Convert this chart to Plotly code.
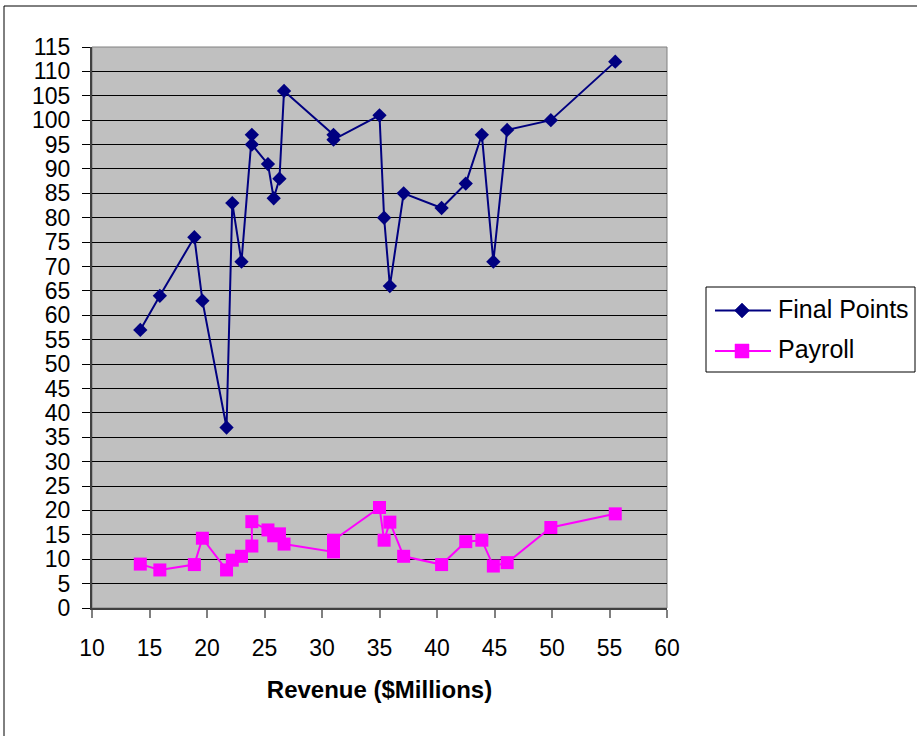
import plotly.graph_objects as go

# Club season data: revenue vs. final league points and payroll
revenue = [14.2, 15.9, 18.9, 19.6, 21.7, 22.2, 23.0, 23.9, 23.9, 25.3, 25.8, 26.3, 26.7,
           31.0, 31.0, 35.0, 35.4, 35.9, 37.1, 40.4, 42.5, 43.9, 44.9, 46.1, 49.9, 55.5]
final_points = [57, 64, 76, 63, 37, 83, 71, 97, 95, 91, 84, 88, 106,
                97, 96, 101, 80, 66, 85, 82, 87, 97, 71, 98, 100, 112]
payroll = [9.0, 7.8, 8.9, 14.3, 7.8, 9.8, 10.6, 12.7, 17.7, 16.0, 14.8, 15.2, 13.1,
           11.5, 13.9, 20.6, 13.9, 17.6, 10.6, 8.9, 13.6, 13.9, 8.6, 9.3, 16.5, 19.3]

x_ticks = list(range(10, 61, 5))
y_ticks = list(range(0, 116, 5))
series_names = ["Final Points", "Payroll"]

NAVY = "#000080"
MAGENTA = "#FF00FF"
FONT = "Liberation Sans, Arial, sans-serif"

W, H = 917, 736
ML, MR, MT, MB = 92, 250, 47, 128
PW, PH = W - ML - MR, H - MT - MB


def px(x):
    return (x - ML) / PW


def py(y):
    return (H - MB - y) / PH


fig = go.Figure()
fig.add_trace(go.Scatter(
    x=revenue, y=final_points, name=series_names[0], mode="lines+markers",
    line=dict(color=NAVY, width=2),
    marker=dict(symbol="diamond", size=11, color=NAVY),
    showlegend=False,
))
fig.add_trace(go.Scatter(
    x=revenue, y=payroll, name=series_names[1], mode="lines+markers",
    line=dict(color=MAGENTA, width=2),
    marker=dict(symbol="square", size=13, color=MAGENTA),
    showlegend=False,
))

shapes = []
annotations = []

# outer chart frame
shapes.append(dict(type="rect", xref="paper", yref="paper",
                   x0=px(4), x1=px(W + 20), y0=py(6), y1=py(H + 20),
                   line=dict(color="black", width=1), layer="below"))
# plot-area frame
shapes.append(dict(type="rect", xref="paper", yref="paper",
                   x0=0, x1=1, y0=0, y1=1,
                   line=dict(color="#808080", width=1), layer="below"))

# legend box
lx0, lx1, ly0, ly1 = 706, 915, 287, 372
shapes.append(dict(type="rect", xref="paper", yref="paper",
                   x0=px(lx0), x1=px(lx1), y0=py(ly0), y1=py(ly1),
                   line=dict(color="black", width=1), fillcolor="white"))
rows = [(310.5, NAVY, "diamond"), (351, MAGENTA, "square")]
for (yy, col, sym), name in zip(rows, series_names):
    shapes.append(dict(type="line", xref="paper", yref="paper",
                       x0=px(715), x1=px(771), y0=py(yy), y1=py(yy),
                       line=dict(color=col, width=2)))
    cx = 742
    if sym == "diamond":
        r = 7.5
        path = (f"M {px(cx - r)},{py(yy)} L {px(cx)},{py(yy - r)} "
                f"L {px(cx + r)},{py(yy)} L {px(cx)},{py(yy + r)} Z")
        shapes.append(dict(type="path", xref="paper", yref="paper", path=path,
                           fillcolor=col, line=dict(color=col, width=0.5)))
    else:
        r = 7
        shapes.append(dict(type="rect", xref="paper", yref="paper",
                           x0=px(cx - r), x1=px(cx + r), y0=py(yy - r), y1=py(yy + r),
                           fillcolor=col, line=dict(color=col, width=0.5)))
    annotations.append(dict(xref="paper", yref="paper", x=px(776), y=py(yy - 2),
                            xanchor="left", yanchor="middle", showarrow=False,
                            text=name, font=dict(family=FONT, size=25, color="black")))

fig.update_layout(
    width=W, height=H,
    margin=dict(l=ML, r=MR, t=MT, b=MB, pad=0),
    paper_bgcolor="white",
    plot_bgcolor="#C0C0C0",
    font=dict(family=FONT, color="black"),
    shapes=shapes,
    annotations=annotations,
    showlegend=False,
)

fig.update_xaxes(
    range=[10, 60], tickvals=x_ticks, ticktext=[str(v) for v in x_ticks],
    showgrid=False, zeroline=False,
    showline=True, linecolor="#404040", linewidth=2,
    ticks="outside", ticklen=8, tickcolor="#808080", tickwidth=2,
    tickfont=dict(family=FONT, size=23, color="black"),
    ticklabelstandoff=10,
    title=dict(text="<b>Revenue ($Millions)</b>",
               font=dict(family=FONT, size=24, color="black"), standoff=22),
)
fig.update_yaxes(
    range=[0, 115], tickvals=y_ticks, ticktext=[str(v) for v in y_ticks],
    showgrid=True, gridcolor="black", gridwidth=1.3, zeroline=False,
    showline=True, linecolor="#404040", linewidth=2,
    ticks="outside", ticklen=8, tickcolor="black", tickwidth=1,
    tickfont=dict(family=FONT, size=23, color="black"),
    ticklabelstandoff=7,
)

fig.write_html("out.html")
